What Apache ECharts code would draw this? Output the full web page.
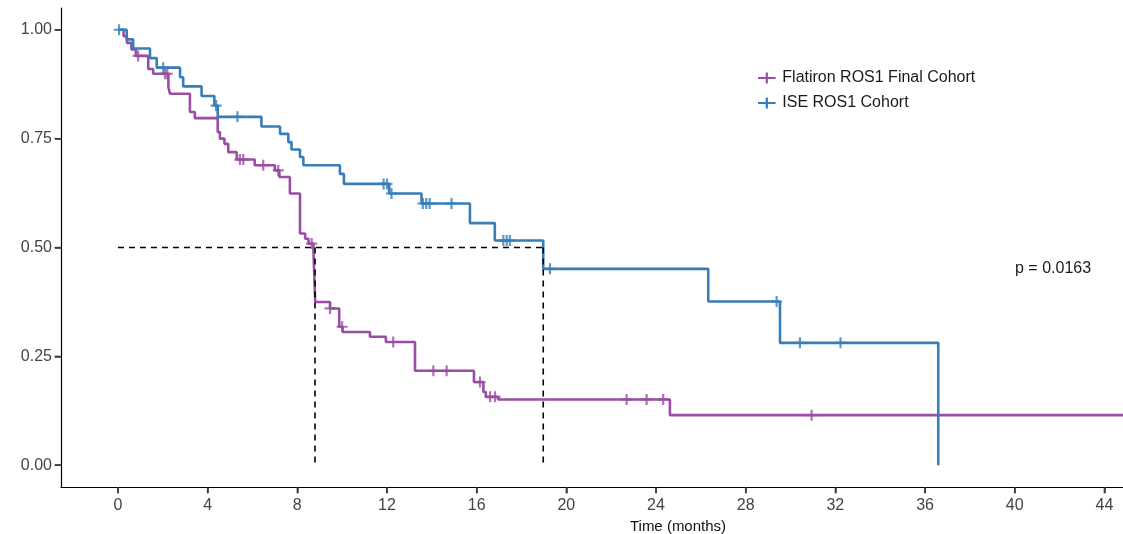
<!DOCTYPE html>
<html>
<head>
<meta charset="utf-8">
<script src="https://cdn.jsdelivr.net/npm/echarts@6/dist/echarts.min.js"></script>
<style>
html, body { margin: 0; padding: 0; background: #fff; }
#chart { width: 1123px; height: 534px; }
</style>
</head>
<body>
<div id="chart"></div>
<script>
// Kaplan-Meier steps: [time (months), survival after the event]
var flatironName = 'Flatiron ROS1 Final Cohort';
var flatironSteps = [
    [0, 1.0], [0.25, 0.985], [0.4, 0.97], [0.6, 0.955], [0.8, 0.94], [1.35, 0.91],
    [1.57, 0.899], [2.25, 0.868], [2.32, 0.853], [3.21, 0.811], [3.43, 0.797],
    [4.45, 0.765], [4.55, 0.75], [4.75, 0.738], [4.92, 0.719], [5.3, 0.702],
    [6.1, 0.689], [7.0, 0.677], [7.2, 0.662], [7.67, 0.624], [8.12, 0.532],
    [8.35, 0.52], [8.5, 0.509], [8.72, 0.49], [8.8, 0.375], [9.46, 0.36],
    [9.87, 0.318], [10.02, 0.306], [11.24, 0.295], [11.95, 0.283], [13.25, 0.217],
    [15.88, 0.191], [16.3, 0.168], [16.41, 0.157], [16.96, 0.151], [24.62, 0.115],
    [44.83, 0.115]
];
var flatironCensor = [0.9, 2.1, 2.2, 5.44, 5.59, 6.48, 7.15, 8.64, 9.46, 10.0, 12.28,
    14.07, 14.66, 16.15, 16.6, 16.82, 22.69, 23.58, 24.32, 30.94];

var iseName = 'ISE ROS1 Cohort';
var iseSteps = [
    [0, 1.0], [0.39, 0.978], [0.68, 0.957], [1.43, 0.935], [1.73, 0.913],
    [2.77, 0.891], [2.91, 0.87], [3.73, 0.848], [4.3, 0.826], [4.45, 0.8],
    [6.4, 0.778], [7.23, 0.761], [7.6, 0.742], [7.74, 0.725], [8.12, 0.708],
    [8.27, 0.689], [9.9, 0.669], [10.08, 0.646], [12.1, 0.624], [13.54, 0.601],
    [15.7, 0.556], [16.81, 0.516], [18.97, 0.451], [26.33, 0.376], [29.53, 0.281],
    [36.59, 0.0]
];
var iseCensor = [0.05, 2.02, 4.38, 5.33, 11.85, 12.0, 12.2, 13.6, 13.75, 13.9, 14.88,
    17.19, 17.34, 17.48, 19.27, 29.38, 30.42, 32.23];

var medianTimes = [8.79, 18.97];
var xTicks = [0, 4, 8, 12, 16, 20, 24, 28, 32, 36, 40, 44];
var yTicks = [0, 0.25, 0.5, 0.75, 1.0];
var xRange = [-2.54, 44.83];
var yRange = [-0.05, 1.05];
var pValueText = 'p = 0.0163';

var PURPLE = '#984EA3';
var BLUE = '#377EB8';
var FONT = 'Liberation Sans, Arial, sans-serif';

function survivalAt(steps, t) {
    var s = steps[0][1];
    for (var i = 0; i < steps.length; i++) {
        if (steps[i][0] <= t) s = steps[i][1];
    }
    return s;
}
function censorPoints(steps, times) {
    var out = [];
    for (var i = 0; i < times.length; i++) {
        out.push([times[i], survivalAt(steps, times[i])]);
    }
    return out;
}

var plusIcon = 'path://M0,4h10v2h-10z M4,0h2v10h-2z';
var legendIcon = 'path://M0,4h16v2h-16z M7,0h2v10h-2z';
var dashStyle = { color: '#000', width: 1.6, type: [6, 5] };

// tick marks as small scatter marks sitting on the border axis lines
var xTickMarks = xTicks.map(function (v) { return [v, yRange[0]]; });
var yTickMarks = yTicks.map(function (v) { return [xRange[0], v]; });

var chart = echarts.init(document.getElementById('chart'));
var option = {
    animation: false,
    backgroundColor: '#fff',
    textStyle: { fontFamily: FONT },
    grid: {
        left: 61, right: 0, top: 8, bottom: 47,
        containLabel: false, outerBoundsMode: 'none'
    },
    legend: {
        data: [
            { name: flatironName, icon: legendIcon, itemStyle: { color: PURPLE } },
            { name: iseName, icon: legendIcon, itemStyle: { color: BLUE } }
        ],
        orient: 'vertical',
        left: 753, top: 65,
        itemWidth: 21, itemHeight: 11, itemGap: 9,
        textStyle: { fontSize: 16, color: '#1a1a1a', fontFamily: FONT }
    },
    graphic: [{
        type: 'text',
        left: 1015, top: 261,
        style: { text: pValueText, fontSize: 16, fill: '#1a1a1a', fontFamily: FONT }
    }],
    xAxis: {
        type: 'value',
        min: xRange[0], max: xRange[1],
        name: 'Time (months)',
        nameLocation: 'middle',
        nameGap: 28,
        nameTextStyle: { fontSize: 15, color: '#111', padding: [0, 0, 0, 172] },
        splitLine: { show: false },
        axisLine: { show: true, onZero: false, lineStyle: { color: '#000', width: 1.2 } },
        axisTick: { show: true, customValues: xTicks, length: 6,
            lineStyle: { color: '#333', width: 1.5 } },
        axisLabel: { show: true, customValues: xTicks, fontSize: 16, color: '#444', margin: 11 }
    },
    yAxis: {
        type: 'value',
        min: yRange[0], max: yRange[1],
        splitLine: { show: false },
        axisLine: { show: true, onZero: false, lineStyle: { color: '#000', width: 1.2 } },
        axisTick: { show: true, customValues: yTicks, length: 6,
            lineStyle: { color: '#333', width: 1.5 } },
        axisLabel: {
            show: true, customValues: yTicks, fontSize: 16, color: '#444', margin: 9,
            formatter: function (v) { return v.toFixed(2); }
        }
    },
    series: [
        {
            name: flatironName, type: 'line', step: 'end',
            data: flatironSteps, showSymbol: false, symbol: 'none',
            color: PURPLE, lineStyle: { color: PURPLE, width: 2.6 }, z: 3
        },
        {
            name: iseName, type: 'line', step: 'end',
            data: iseSteps, showSymbol: false, symbol: 'none',
            color: BLUE, lineStyle: { color: BLUE, width: 2.6 }, z: 4
        },
        {
            name: 'flatiron censor', type: 'scatter', data: censorPoints(flatironSteps, flatironCensor),
            symbol: plusIcon, symbolSize: 11, itemStyle: { color: PURPLE }, z: 5
        },
        {
            name: 'ise censor', type: 'scatter', data: censorPoints(iseSteps, iseCensor),
            symbol: plusIcon, symbolSize: 11, itemStyle: { color: BLUE }, z: 5
        },
        {
            name: 'median h', type: 'line', symbol: 'none',
            data: [[0, 0.5], [medianTimes[1], 0.5]], lineStyle: dashStyle, z: 6
        },
        {
            name: 'median 1', type: 'line', symbol: 'none',
            data: [[medianTimes[0], 0.5], [medianTimes[0], 0]], lineStyle: dashStyle, z: 6
        },
        {
            name: 'median 2', type: 'line', symbol: 'none',
            data: [[medianTimes[1], 0.5], [medianTimes[1], 0]], lineStyle: dashStyle, z: 6
        },
        {
            name: 'x ticks', type: 'scatter', data: xTickMarks, clip: false, silent: true,
            symbol: 'rect', symbolSize: [1.5, 6], symbolOffset: [0, 3.5],
            itemStyle: { color: '#333' }, z: 7
        },
        {
            name: 'y ticks', type: 'scatter', data: yTickMarks, clip: false, silent: true,
            symbol: 'rect', symbolSize: [6, 1.5], symbolOffset: [-3.5, 0],
            itemStyle: { color: '#333' }, z: 7
        }
    ]
};
chart.setOption(option);
</script>
</body>
</html>
